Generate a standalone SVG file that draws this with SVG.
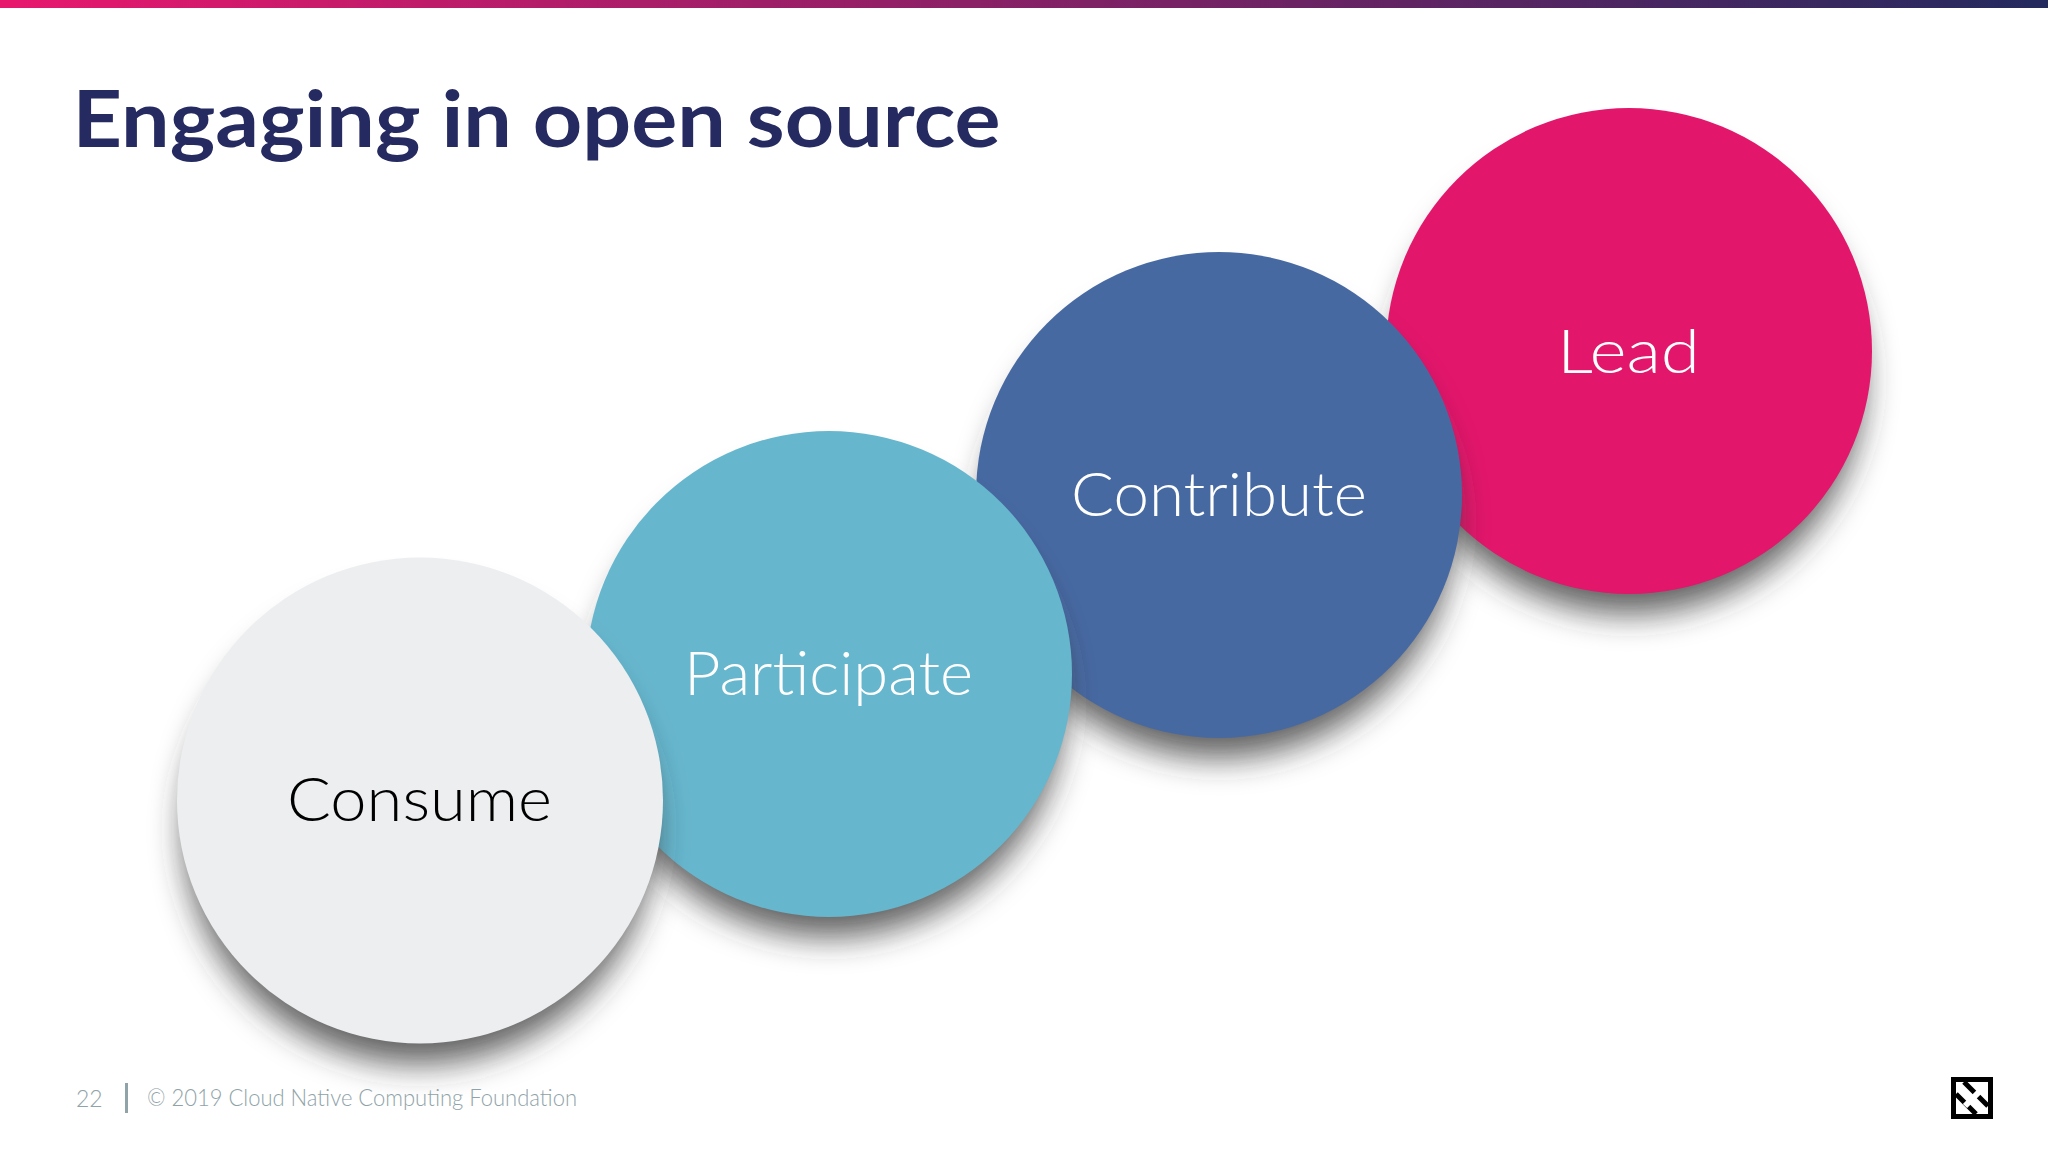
<svg xmlns="http://www.w3.org/2000/svg" width="2048" height="1152" viewBox="0 0 2048 1152">
<defs>
<linearGradient id="bar" x1="0" y1="0" x2="1" y2="0"><stop offset="0" stop-color="#e8176e"/><stop offset="1" stop-color="#232a5e"/></linearGradient>
<filter id="soft" x="-30%" y="-30%" width="160%" height="160%"><feGaussianBlur stdDeviation="16"/></filter>
</defs>
<style>
.shadow{fill:#333333;fill-opacity:.78;filter:url(#soft)}
.label{font-family:"Lato","Liberation Sans",sans-serif;font-weight:300;font-size:62px;text-anchor:start}
.foot{font-family:"Lato","Liberation Sans",sans-serif;font-weight:300;font-size:23px;fill:#8fa3a8}
</style>
<rect width="2048" height="1152" fill="#ffffff"/>
<rect id="top-bar" width="2048" height="8" fill="url(#bar)"/>
<text id="title" x="72.5" y="147" font-family="Lato,'Liberation Sans',sans-serif" font-weight="700" font-size="79" fill="#252a60" textLength="928" lengthAdjust="spacingAndGlyphs">Engaging in open source</text>
<g id="node-lead">
<circle class="shadow" cx="1629" cy="379" r="235"/>
<circle cx="1629" cy="351" r="243" fill="#e2166b"/>
<text class="label" x="1557" y="373" fill="#ffffff" textLength="143" lengthAdjust="spacingAndGlyphs">Lead</text>
</g>
<g id="node-contribute">
<circle class="shadow" cx="1219" cy="523" r="235"/>
<circle cx="1219" cy="495" r="243" fill="#4769a2"/>
<text class="label" x="1071" y="516" fill="#ffffff" textLength="296" lengthAdjust="spacingAndGlyphs">Contribute</text>
</g>
<g id="node-participate">
<circle class="shadow" cx="829" cy="702" r="235"/>
<circle cx="829" cy="674" r="243" fill="#66b6cd"/>
<text class="label" x="684" y="695" fill="#ffffff" textLength="289" lengthAdjust="spacingAndGlyphs">Participate</text>
</g>
<g id="node-consume">
<circle class="shadow" cx="419" cy="829" r="235"/>
<circle cx="420" cy="800.5" r="243" fill="#eceef0"/>
<text class="label" x="287" y="821" fill="#000000" textLength="265" lengthAdjust="spacingAndGlyphs">Consume</text>
</g>
<g id="connectors"/>
<g id="footer">
<text class="foot" x="76" y="1107">22</text>
<rect x="125" y="1083" width="3" height="30" fill="#8fa3a8"/>
<text class="foot" x="147" y="1106" textLength="430" lengthAdjust="spacingAndGlyphs">© 2019 Cloud Native Computing Foundation</text>
</g>
<g id="logo">
<rect x="1951" y="1077" width="42" height="42" fill="#000"/>
<rect x="1956" y="1082" width="32" height="32" fill="#fff"/>
<path d="M1964 1082L1988 1106M1956 1094L1976 1114" stroke="#000" stroke-width="5" fill="none"/>
<path d="M1980 1091L1965 1106" stroke="#fff" stroke-width="6" fill="none"/>
</g>
</svg>
